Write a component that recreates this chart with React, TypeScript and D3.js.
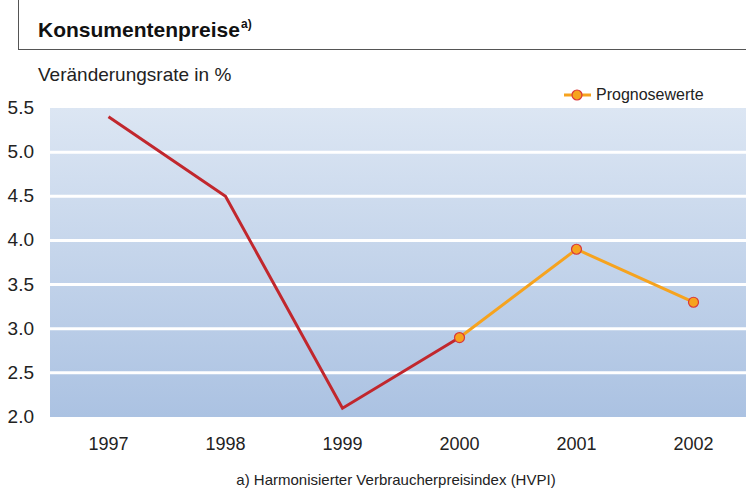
import React from 'react';
import * as d3 from 'd3';

const years = ['1997', '1998', '1999', '2000', '2001', '2002'];
const actual = [5.4, 4.5, 2.1, 2.9];
const forecast = [2.9, 3.9, 3.3];
const forecastYears = ['2000', '2001', '2002'];
const yTicks = [2.0, 2.5, 3.0, 3.5, 4.0, 4.5, 5.0, 5.5];

const W = 746;
const H = 493;
const font = '"Liberation Sans", Arial, sans-serif';

export default function App() {
  const x = d3.scaleBand<string>().domain(years).range([50, 752]);
  const y = d3.scaleLinear().domain([2.0, 5.5]).range([417, 108]);
  const cx = (yr: string) => (x(yr) as number) + x.bandwidth() / 2;

  const line = d3.line<[string, number]>()
    .x(d => cx(d[0]))
    .y(d => y(d[1]));

  const actualPts: [string, number][] = actual.map((v, i) => [years[i], v]);
  const forecastPts: [string, number][] = forecast.map((v, i) => [forecastYears[i], v]);

  return (
    <div style={{ position: 'absolute', left: 0, top: 0 }}>
      <svg width={W} height={H} style={{ display: 'block', fontFamily: font }}>
        <defs>
          <linearGradient id='bg' x1='0' y1='0' x2='0' y2='1'>
            <stop offset='0%' stopColor='#dce6f3' />
            <stop offset='100%' stopColor='#abc2e2' />
          </linearGradient>
        </defs>
        <rect width={W} height={H} fill='#fff' />

        {/* header */}
        <line x1={18.5} x2={18.5} y1={0} y2={49} stroke='#555' strokeWidth={1} />
        <line x1={18} x2={W} y1={49.5} y2={49.5} stroke='#555' strokeWidth={1} />
        <text x={38} y={37} fontSize={21} fontWeight='bold' fill='#111'>Konsumentenpreise</text>
        <text x={241} y={28} fontSize={12} fontWeight='bold' fill='#111'>a)</text>
        <text x={38} y={81} fontSize={19} fill='#222'>Veränderungsrate in %</text>

        {/* plot background */}
        <rect x={50} y={y(5.5)} width={W - 50} height={y(2.0) - y(5.5)} fill='url(#bg)' />
        {yTicks.slice(1, -1).map(t => (
          <line key={t} x1={50} x2={W} y1={y(t)} y2={y(t)} stroke='#fff' strokeWidth={3} />
        ))}

        {/* y ticks */}
        {yTicks.map(t => (
          <text key={t} x={34} y={y(t) + 6} textAnchor='end' fontSize={19} fill='#222'>
            {d3.format('.1f')(t)}
          </text>
        ))}

        {/* x ticks */}
        {years.map(yr => (
          <text key={yr} x={cx(yr)} y={450} textAnchor='middle' fontSize={18} fill='#222'>{yr}</text>
        ))}

        {/* lines */}
        <path d={line(actualPts) || ''} fill='none' stroke='#c1272d' strokeWidth={3} />
        <path d={line(forecastPts) || ''} fill='none' stroke='#f6a31e' strokeWidth={3} />
        {forecastPts.map(d => (
          <circle key={d[0]} cx={cx(d[0])} cy={y(d[1])} r={5} fill='#f6a31e' stroke='#d9373a' strokeWidth={1.2} />
        ))}

        {/* legend */}
        <line x1={564} x2={591} y1={95} y2={95} stroke='#f6a31e' strokeWidth={3} />
        <circle cx={577} cy={95} r={5} fill='#f6a31e' stroke='#d9373a' strokeWidth={1.2} />
        <text x={596} y={100} fontSize={16} fill='#222'>Prognosewerte</text>

        {/* footnote */}
        <text x={396} y={485} textAnchor='middle' fontSize={15} fill='#222'>
          a) Harmonisierter Verbraucherpreisindex (HVPI)
        </text>
      </svg>
    </div>
  );
}
